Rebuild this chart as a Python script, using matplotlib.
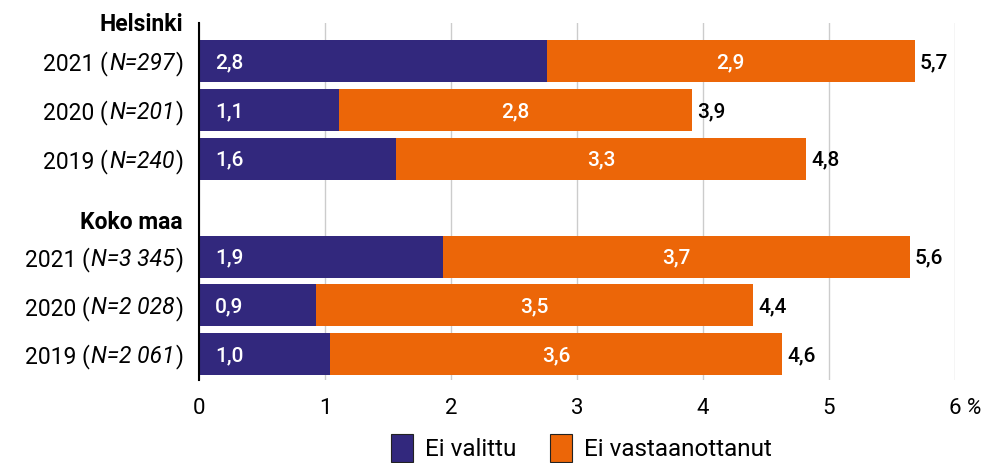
import matplotlib
matplotlib.use('Agg')
import matplotlib.pyplot as plt
from matplotlib.patches import Patch

plt.rcParams['font.family'] = ['Roboto', 'DejaVu Sans']

# arvot luettu kuvasta (%)
years = ['2021', '2020', '2019']
hel_n = ['297', '201', '240']
koko_n = ['3 345', '2 028', '2 061']
hel_ei_valittu = [2.76, 1.11, 1.56]
hel_ei_vast = [2.92, 2.80, 3.26]
koko_ei_valittu = [1.94, 0.93, 1.04]
koko_ei_vast = [3.70, 3.47, 3.59]
groups = ['Helsinki', 'Koko maa']
series = ['Ei valittu', 'Ei vastaanottanut']
x_ticks = [0, 1, 2, 3, 4, 5, 6]

purple = '#32287d'
orange = '#ec6608'
fs = 16.5


def fmt(v):
    return ('%.1f' % v).replace('.', ',')


fig = plt.figure(figsize=(9.89, 4.63), dpi=100)
ax = fig.add_axes([0.2012, 0.179, 0.7644, 0.771])

ypos = [[0, 1, 2], [4, 5, 6]]
ns = [hel_n, koko_n]
vals1 = [hel_ei_valittu, koko_ei_valittu]
vals2 = [hel_ei_vast, koko_ei_vast]
h = 0.86

for g in range(2):
    for i in range(3):
        y = ypos[g][i]
        a = vals1[g][i]
        b = vals2[g][i]
        ax.barh(y, a, height=h, color=purple, zorder=2)
        ax.barh(y, b, left=a, height=h, color=orange, zorder=2)
        ax.text(0.13, y + 0.03, fmt(a), color='white', ha='left', va='center', fontsize=15,
                fontweight='medium', zorder=3)
        ax.text(a + b / 2, y + 0.03, fmt(b), color='white', ha='center', va='center', fontsize=15,
                fontweight='medium', zorder=3)
        ax.text(a + b + 0.04, y + 0.03, fmt(a + b), color='black', ha='left', va='center',
                fontsize=15, fontweight='medium', zorder=3)

        # rivin otsikko: vuosi (N=...)
        parts = [(')', 'normal'), ('N=' + ns[g][i], 'italic'), (years[i] + ' (', 'normal')]
        prev = ax.text(-0.021, y, parts[0][0], ha='right', va='center_baseline', fontsize=fs,
                       transform=ax.get_yaxis_transform(), clip_on=False)
        for txt, st in parts[1:]:
            prev = ax.annotate(txt, xy=(0, y), xycoords=(prev, 'data'), xytext=(-0.5, 0),
                               textcoords='offset points', ha='right', va='center_baseline',
                               fontsize=fs, style=st, annotation_clip=False)

ax.text(-0.021, -0.8, groups[0], ha='right', va='center_baseline', fontsize=fs,
        fontweight='bold', transform=ax.get_yaxis_transform(), clip_on=False)
ax.text(-0.021, 3.26, groups[1], ha='right', va='center_baseline', fontsize=fs,
        fontweight='bold', transform=ax.get_yaxis_transform(), clip_on=False)

ax.set_xlim(0, 6)
ax.set_ylim(6.53, -0.78)
ax.set_yticks([])
ax.set_xticks(x_ticks)
ax.set_xticklabels([str(t) for t in x_ticks], fontsize=16)
ax.tick_params(axis='x', length=0, pad=13)
ax.annotate('%', xy=(6, 0), xycoords=('data', 'axes fraction'), xytext=(8, -13),
            textcoords='offset points', ha='left', va='top', fontsize=16, style='italic',
            annotation_clip=False)
ax.grid(axis='x', color='#cccccc', linewidth=1, zorder=0)
for s in ['top', 'right', 'bottom']:
    ax.spines[s].set_visible(False)
ax.spines['left'].set_linewidth(1.5)
ax.spines['left'].set_zorder(4)

handles = [Patch(facecolor=purple, edgecolor='#222222', linewidth=0.8),
           Patch(facecolor=orange, edgecolor='#222222', linewidth=0.8)]
fig.legend(handles, series, loc='lower center', bbox_to_anchor=(0.588, -0.045), ncol=2,
           frameon=False, fontsize=17.5, handlelength=0.9, handleheight=1.4,
           handletextpad=0.5, columnspacing=1.4)

plt.savefig('out.png', dpi=100)
